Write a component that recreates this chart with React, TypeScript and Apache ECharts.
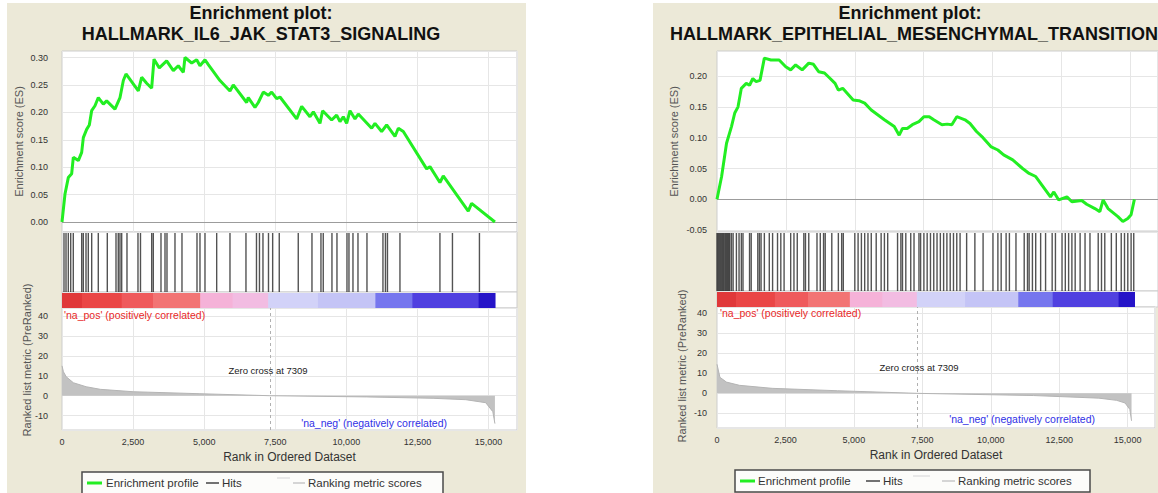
import React, { useEffect, useRef } from "react";
import * as echarts from "echarts";

const FONT = 'Arial, "Liberation Sans", Helvetica, sans-serif';

// ---------- shared axis values ----------
const X_MAX = 16000;
const X_TICK = 2500;
const ES_STEP = 0.05;
const METRIC_STEP = 10;
const ZERO_CROSS = 7309;

// ---------- titles ----------
const TITLE_LINE1 = "Enrichment plot:";
const IL6_TITLE = "HALLMARK_IL6_JAK_STAT3_SIGNALING";
const EMT_TITLE = "HALLMARK_EPITHELIAL_MESENCHYMAL_TRANSITION";

// ---------- IL6 / JAK / STAT3 ----------
const IL6_ES: [number, number][] = [
  [0, 0], [105, 0.051], [222, 0.081], [340, 0.088], [398, 0.118], [574, 0.112], [692, 0.127],
  [750, 0.154], [867, 0.169], [961, 0.177], [1043, 0.203], [1160, 0.212], [1277, 0.227],
  [1453, 0.215], [1570, 0.221], [1863, 0.206], [2040, 0.227], [2157, 0.258], [2250, 0.27],
  [2684, 0.239], [2801, 0.264], [2977, 0.253], [3153, 0.244], [3235, 0.297], [3422, 0.281],
  [3680, 0.294], [3915, 0.276], [4090, 0.285], [4266, 0.273], [4325, 0.3], [4560, 0.29],
  [4736, 0.296], [4852, 0.285], [5028, 0.296], [5145, 0.287], [5555, 0.258], [5907, 0.239],
  [6023, 0.25], [6492, 0.218], [6550, 0.227], [6786, 0.209], [6903, 0.218], [7079, 0.237],
  [7254, 0.231], [7372, 0.237], [7548, 0.225], [7665, 0.228], [8252, 0.188], [8428, 0.211],
  [8720, 0.192], [8838, 0.201], [9071, 0.18], [9165, 0.203], [9482, 0.186], [9658, 0.195],
  [9775, 0.183], [9892, 0.192], [10010, 0.18], [10127, 0.203], [10303, 0.188], [10420, 0.197],
  [10889, 0.171], [11006, 0.18], [11240, 0.165], [11416, 0.177], [11709, 0.156], [11826, 0.171],
  [12002, 0.165], [12822, 0.097], [12939, 0.101], [13290, 0.072], [13407, 0.084], [14286, 0.02],
  [14403, 0.034], [15224, 0],
];
const IL6_HITS = [
  70, 141, 222, 306, 397, 693, 749, 844, 925, 1044, 1276, 1593, 1899, 1979, 2039, 2099, 2285,
  2672, 2760, 3154, 3210, 3481, 3622, 3692, 3973, 4219, 4747, 4852, 5028, 5439, 5907, 6469,
  6839, 6944, 7067, 7261, 7408, 7640, 8308, 8790, 9106, 9187, 9493, 9669, 10021, 10091, 10232,
  10408, 10724, 11286, 11374, 11445, 11884, 13290, 13730, 14679,
];
const IL6_METRIC: [number, number][] = [
  [0, 15], [50, 12], [150, 9.5], [400, 6.5], [850, 4.5], [1350, 3.2], [2500, 2], [4850, 1],
  [7309, 0], [10700, -0.6], [13050, -1.3], [14200, -2], [14900, -3.5], [15150, -8], [15224, -14],
];
const IL6_BAND_EDGES = [0, 700, 2100, 3200, 4860, 6000, 7250, 9000, 11020, 12320, 14650, 15224];

// ---------- EMT ----------
const EMT_ES: [number, number][] = [
  [0, 0], [167, 0.037], [346, 0.091], [525, 0.118], [644, 0.14], [763, 0.15], [883, 0.18],
  [1062, 0.188], [1181, 0.185], [1300, 0.196], [1420, 0.191], [1560, 0.193], [1718, 0.229],
  [1957, 0.226], [2255, 0.226], [2494, 0.215], [2673, 0.21], [2853, 0.218], [3091, 0.21],
  [3330, 0.221], [3500, 0.219], [3687, 0.207], [3900, 0.205], [4105, 0.196], [4284, 0.188],
  [4403, 0.177], [4560, 0.18], [4940, 0.161], [5150, 0.16], [5358, 0.156], [5596, 0.145],
  [6073, 0.129], [6431, 0.118], [6610, 0.104], [6730, 0.115], [6900, 0.115], [7088, 0.121],
  [7327, 0.126], [7506, 0.134], [7700, 0.134], [7864, 0.129], [8162, 0.121], [8350, 0.122],
  [8520, 0.121], [8699, 0.134], [8997, 0.129], [9180, 0.123], [9415, 0.11], [9650, 0.1],
  [9952, 0.085], [10190, 0.08], [10400, 0.072], [10729, 0.064], [11087, 0.05], [11325, 0.042],
  [11564, 0.037], [12100, 0.004], [12220, 0.012], [12398, -0.001], [12696, 0.004],
  [12876, -0.004], [13233, -0.002], [13412, -0.008], [13711, -0.015], [13890, -0.02],
  [14009, -0.001], [14188, -0.015], [14546, -0.028], [14725, -0.036], [14904, -0.031],
  [15023, -0.025], [15143, 0],
];
const EMT_HITS = [
  0, 36, 72, 108, 144, 180, 215, 250, 290, 325, 360, 395, 430, 465, 525, 585, 704, 800, 883,
  943, 1181, 1241, 1480, 1539, 1599, 1718, 1897, 2017, 2196, 2315, 2434, 2673, 2792, 2912,
  3150, 3210, 3329, 3628, 3747, 3866, 3926, 4165, 4403, 4523, 4582, 5000, 5119, 5239, 5358,
  5477, 5597, 5776, 5955, 6074, 6193, 6551, 6671, 6730, 6850, 7029, 7148, 7327, 7387, 7506,
  7625, 7745, 7864, 7983, 8103, 8222, 8341, 8461, 8580, 8699, 8819, 9057, 9356, 9654, 10012,
  10191, 10310, 10489, 10609, 10847, 11146, 11265, 11325, 11444, 11563, 11742, 11921, 12160,
  12279, 12518, 12637, 12757, 12876, 12995, 13174, 13353, 13532, 13831, 13950, 14069, 14308,
  14487, 14666, 14785, 14904, 15024, 15120,
];
const EMT_METRIC: [number, number][] = [
  [0, 14.5], [107, 8], [346, 5.6], [823, 4], [2016, 2.5], [4403, 1.3], [7309, 0],
  [11563, -1.1], [13950, -2.4], [14600, -3.5], [14905, -4.8], [15080, -8], [15143, -13.7],
];
const EMT_BAND_EDGES = [0, 700, 2100, 3300, 4820, 6000, 7250, 9000, 10930, 12180, 14570, 15143];

const BAND_COLORS = [
  "#e0383a", "#ea4646", "#ef5a5c", "#f27474", "#f5b2d8", "#f2bce2", "#d2d2f8", "#c4c4f6",
  "#7676ee", "#5040e0", "#2614c8",
];

const GREEN = "#22ee22";
const GRID_LINE = "#e6e6e6";

type Panel = {
  left: number; width: number; top: number;
  esH: number; hitsH: number; bandH: number; metricH: number;
  esMin: number; esMax: number; mMin: number; mMax: number;
  labelMargin: number; esNameGap: number;
  es: [number, number][]; hits: number[]; metric: [number, number][]; edges: number[];
};

const PANELS: Panel[] = [
  {
    left: 62, width: 455, top: 51, esH: 181, hitsH: 60, bandH: 16, metricH: 122,
    esMin: -0.0182, esMax: 0.3119, mMin: -17.2, mMax: 44.0, labelMargin: 14, esNameGap: 38,
    es: IL6_ES, hits: IL6_HITS, metric: IL6_METRIC, edges: IL6_BAND_EDGES,
  },
  {
    left: 717, width: 447, top: 51, esH: 181, hitsH: 59, bandH: 16, metricH: 121,
    esMin: -0.053, esMax: 0.2406, mMin: -17.3, mMax: 43.1, labelMargin: 10, esNameGap: 38,
    es: EMT_ES, hits: EMT_HITS, metric: EMT_METRIC, edges: EMT_BAND_EDGES,
  },
];

const fmtX = (v: number) =>
  v % X_TICK === 0 ? String(v).replace(/\B(?=(\d{3})+(?!\d))/g, ",") : "";
const fmtStep = (step: number, digits: number) => (v: number) => {
  const k = Math.round(v / step);
  return Math.abs(v - k * step) < 1e-6 ? (k * step).toFixed(digits) : "";
};

function buildPanel(p: Panel, base: number) {
  const tops = [p.top, p.top + p.esH, p.top + p.esH + p.hitsH, p.top + p.esH + p.hitsH + p.bandH];
  const heights = [p.esH, p.hitsH, p.bandH, p.metricH];
  const grids: any[] = [];
  const xAxes: any[] = [];
  const yAxes: any[] = [];
  for (let k = 0; k < 4; k++) {
    grids.push({
      left: p.left, top: tops[k], width: p.width, height: heights[k], show: true,
      backgroundColor: "#ffffff", borderColor: "#cdcdcd", borderWidth: 1,
    });
    const isMetric = k === 3;
    const hasGrid = k === 0 || k === 3;
    xAxes.push({
      type: "value", gridIndex: base + k, min: 0, max: X_MAX, interval: X_TICK,
      axisLine: { show: false }, axisTick: { show: false },
      axisLabel: {
        show: isMetric, formatter: fmtX, fontSize: 9, color: "#333", fontFamily: FONT, margin: 7,
      },
      splitLine: { show: hasGrid, lineStyle: { color: GRID_LINE, width: 1 } },
      name: isMetric ? "Rank in Ordered Dataset" : "",
      nameLocation: "middle", nameGap: 21,
      nameTextStyle: { fontSize: 12, color: "#333", fontFamily: FONT },
    });
  }
  yAxes.push({
    type: "value", gridIndex: base, min: p.esMin, max: p.esMax,
    minInterval: ES_STEP, maxInterval: ES_STEP,
    axisLine: { show: false }, axisTick: { show: false },
    axisLabel: { formatter: fmtStep(ES_STEP, 2), fontSize: 9, color: "#333", fontFamily: FONT, margin: p.labelMargin },
    splitLine: { lineStyle: { color: GRID_LINE, width: 1 } },
    name: "Enrichment score (ES)", nameLocation: "middle", nameRotate: 90, nameGap: p.esNameGap,
    nameTextStyle: { fontSize: 11, color: "#555", fontFamily: FONT },
  });
  for (let k = 1; k < 3; k++) {
    yAxes.push({ type: "value", gridIndex: base + k, min: 0, max: 1, show: false });
  }
  yAxes.push({
    type: "value", gridIndex: base + 3, min: p.mMin, max: p.mMax,
    minInterval: METRIC_STEP, maxInterval: METRIC_STEP,
    axisLine: { show: false }, axisTick: { show: false },
    axisLabel: { formatter: fmtStep(METRIC_STEP, 0), fontSize: 9, color: "#333", fontFamily: FONT, margin: p.labelMargin },
    splitLine: { lineStyle: { color: GRID_LINE, width: 1 } },
  });

  const series: any[] = [
    {
      type: "line", name: "Enrichment profile", xAxisIndex: base, yAxisIndex: base,
      data: p.es, symbol: "none", showSymbol: false, z: 5,
      lineStyle: { color: GREEN, width: 3 }, itemStyle: { color: GREEN },
      markLine: {
        silent: true, symbol: "none", label: { show: false }, animation: false,
        lineStyle: { color: "#9c9c9c", width: 1, type: "solid" },
        data: [{ yAxis: 0 }],
      },
    },
    {
      type: "custom", name: "Hits", xAxisIndex: base + 1, yAxisIndex: base + 1,
      coordinateSystem: "cartesian2d",
      data: p.hits.map((r) => [r, 0.5]),
      encode: { x: 0, y: 1 },
      renderItem: (params: any, api: any) => {
        const x = api.coord([api.value(0), 0.5])[0];
        const cs = params.coordSys;
        return {
          type: "line",
          shape: { x1: x, y1: cs.y + 1, x2: x, y2: cs.y + cs.height },
          style: { stroke: "#111", lineWidth: 1.4, opacity: 0.72 },
        };
      },
    },
    {
      type: "custom", name: "band", xAxisIndex: base + 2, yAxisIndex: base + 2,
      coordinateSystem: "cartesian2d",
      data: p.edges.slice(0, -1).map((e, i) => [e, p.edges[i + 1], i]),
      encode: { x: [0, 1], y: 2 },
      renderItem: (params: any, api: any) => {
        const a = api.coord([api.value(0), 0]);
        const b = api.coord([api.value(1), 0]);
        const cs = params.coordSys;
        return {
          type: "rect",
          shape: { x: a[0], y: cs.y + 1, width: b[0] - a[0] + 0.6, height: cs.height - 1 },
          style: { fill: BAND_COLORS[api.value(2)] },
        };
      },
    },
    {
      type: "line", name: "Ranking metric scores", xAxisIndex: base + 3, yAxisIndex: base + 3,
      data: p.metric, symbol: "none", showSymbol: false,
      lineStyle: { color: "#b4b4b4", width: 1 }, itemStyle: { color: "#b4b4b4" },
      areaStyle: { color: "#c2c2c2", opacity: 1 },
      markLine: {
        silent: true, symbol: "none", label: { show: false }, animation: false,
        lineStyle: { color: "#b0b0b0", width: 1, type: [3, 3] },
        data: [{ xAxis: ZERO_CROSS }],
      },
    },
  ];
  return { grids, xAxes, yAxes, series };
}

function text(x: number, y: number, t: string, style: any, extra: any = {}) {
  return {
    type: "text", x, y, z: 100, ...extra,
    style: { text: t, fontFamily: FONT, textVerticalAlign: "middle", ...style },
  };
}
function hline(x1: number, x2: number, y: number, stroke: string, lineWidth: number) {
  return { type: "line", z: 100, shape: { x1, y1: y, x2, y2: y }, style: { stroke, lineWidth } };
}

function legend(box: [number, number, number, number], pos: number[], y: number) {
  const [bx, by, bw, bh] = box;
  const lt = { fontSize: 11.5, fill: "#333", textAlign: "left" };
  return [
    { type: "rect", z: 99, shape: { x: bx, y: by, width: bw, height: bh }, style: { fill: "#fcfcfa", stroke: "#4a4a4a", lineWidth: 1.5 } },
    hline(pos[0], pos[1], y, GREEN, 3),
    text(pos[2], y, "Enrichment profile", lt),
    hline(pos[3], pos[4], y, "#444", 1.5),
    text(pos[5], y, "Hits", lt),
    hline(pos[6], pos[7], y - 5, "#e2e2e2", 1.5),
    hline(pos[8], pos[9], y, "#c8c8c8", 1.5),
    text(pos[10], y, "Ranking metric scores", lt),
  ];
}

export default function App() {
  const ref = useRef<HTMLDivElement>(null);
  useEffect(() => {
    if (!ref.current) return;
    const chart = echarts.init(ref.current, undefined, { renderer: "svg" });
    const a = buildPanel(PANELS[0], 0);
    const b = buildPanel(PANELS[1], 4);
    const BEIGE = "#ece9d8";
    const title = { fontSize: 18, fontWeight: "bold", fill: "#111" };
    const graphic: any[] = [
      { type: "rect", z: -100, shape: { x: 7, y: 3, width: 519, height: 495 }, style: { fill: BEIGE } },
      { type: "rect", z: -100, shape: { x: 653, y: 3, width: 520, height: 495 }, style: { fill: BEIGE } },
      text(261, 13, TITLE_LINE1, { ...title, textAlign: "center" }),
      text(261, 34, IL6_TITLE, { ...title, textAlign: "center" }),
      text(910, 13, TITLE_LINE1, { ...title, textAlign: "center" }),
      text(670, 34, EMT_TITLE, { ...title, textAlign: "left" }),
      // metric axis names
      text(27, 360, "Ranked list metric (PreRanked)", { fontSize: 11, fill: "#555", textAlign: "center" }, { rotation: Math.PI / 2 }),
      text(682, 366, "Ranked list metric (PreRanked)", { fontSize: 11, fill: "#555", textAlign: "center" }, { rotation: Math.PI / 2 }),
      // annotations left
      text(64, 315, "'na_pos' (positively correlated)", { fontSize: 10.5, fill: "#e82828", textAlign: "left" }),
      text(268, 370, "Zero cross at 7309", { fontSize: 9.5, fill: "#222", textAlign: "center" }),
      text(447, 423, "'na_neg' (negatively correlated)", { fontSize: 10.5, fill: "#3030e6", textAlign: "right" }),
      // annotations right
      text(720, 313, "'na_pos' (positively correlated)", { fontSize: 10.5, fill: "#e82828", textAlign: "left" }),
      text(919, 367, "Zero cross at 7309", { fontSize: 9.5, fill: "#222", textAlign: "center" }),
      text(1095, 419, "'na_neg' (negatively correlated)", { fontSize: 10.5, fill: "#3030e6", textAlign: "right" }),
      ...legend([82, 472, 361, 26], [87, 102, 106, 206, 219, 222, 277, 290, 293, 305, 308], 483),
      ...legend([735, 470, 355, 22], [740, 755, 758, 866, 880, 883, 913, 930, 942, 955, 958], 481),
    ];
    chart.setOption({
      animation: false,
      backgroundColor: "#ffffff",
      textStyle: { fontFamily: FONT },
      grid: [...a.grids, ...b.grids],
      xAxis: [...a.xAxes, ...b.xAxes],
      yAxis: [...a.yAxes, ...b.yAxes],
      series: [...a.series, ...b.series],
      graphic: { elements: graphic },
    });
    return () => chart.dispose();
  }, []);
  return (
    <div
      ref={ref}
      style={{ position: "absolute", left: 0, top: 0, width: 1158, height: 493 }}
    />
  );
}
